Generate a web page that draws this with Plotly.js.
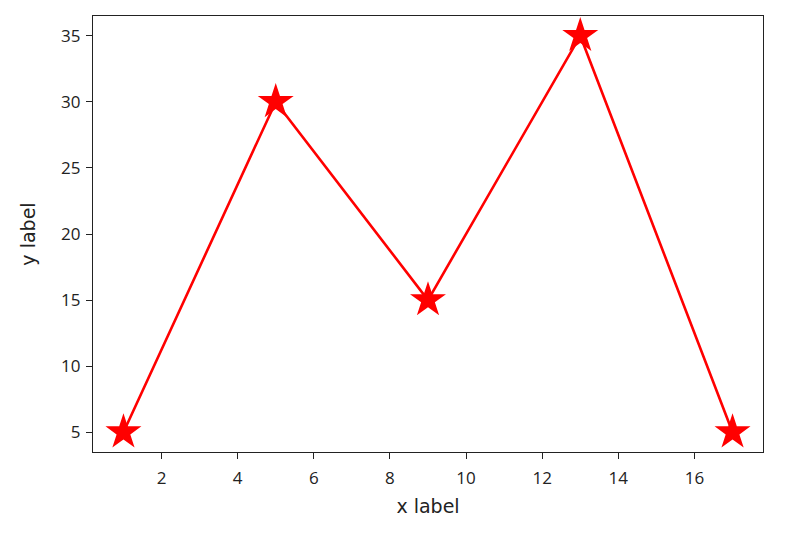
<!DOCTYPE html>
<html>
<head>
<script src="https://cdn.plot.ly/plotly-3.0.1.min.js"></script>
<style>body{margin:0;background:#fff}#chart{width:792px;height:534px}</style>
</head>
<body>
<div id="chart"></div>
<script>
const xValues = [1, 5, 9, 13, 17];
const yValues = [5, 30, 15, 35, 5];
const xTicks = [2, 4, 6, 8, 10, 12, 14, 16];
const yTicks = [5, 10, 15, 20, 25, 30, 35];

const trace = {
  x: xValues, y: yValues, mode: 'lines+markers', type: 'scatter',
  line: {color: '#ff0000', width: 2.6},
  marker: {symbol: 'star', size: 27, color: '#ff0000', line: {width: 0}}
};
const axisCommon = {
  showgrid: false, zeroline: false, showline: true, mirror: true,
  linecolor: '#222', linewidth: 1.3, ticks: 'outside', ticklen: 6, tickwidth: 1.3,
  tickcolor: '#222', tickfont: {family: 'Open Sans', size: 17, color: '#222'}
};
const layout = {
  width: 792, height: 534,
  margin: {l: 93, r: 29, t: 16, b: 82},
  paper_bgcolor: '#fff', plot_bgcolor: '#fff', showlegend: false,
  xaxis: Object.assign({}, axisCommon, {range: [0.2, 17.8], tickvals: xTicks, ticklabelstandoff: 4,
    title: {text: 'x label', font: {family: 'DejaVu Sans', size: 19, color: '#222'}, standoff: 12}}),
  yaxis: Object.assign({}, axisCommon, {range: [3.5, 36.5], tickvals: yTicks, ticklabelstandoff: 2,
    title: {text: 'y label', font: {family: 'DejaVu Sans', size: 19, color: '#222'}, standoff: 20}})
};
Plotly.newPlot('chart', [trace], layout, {displayModeBar: false});
</script>
</body>
</html>
